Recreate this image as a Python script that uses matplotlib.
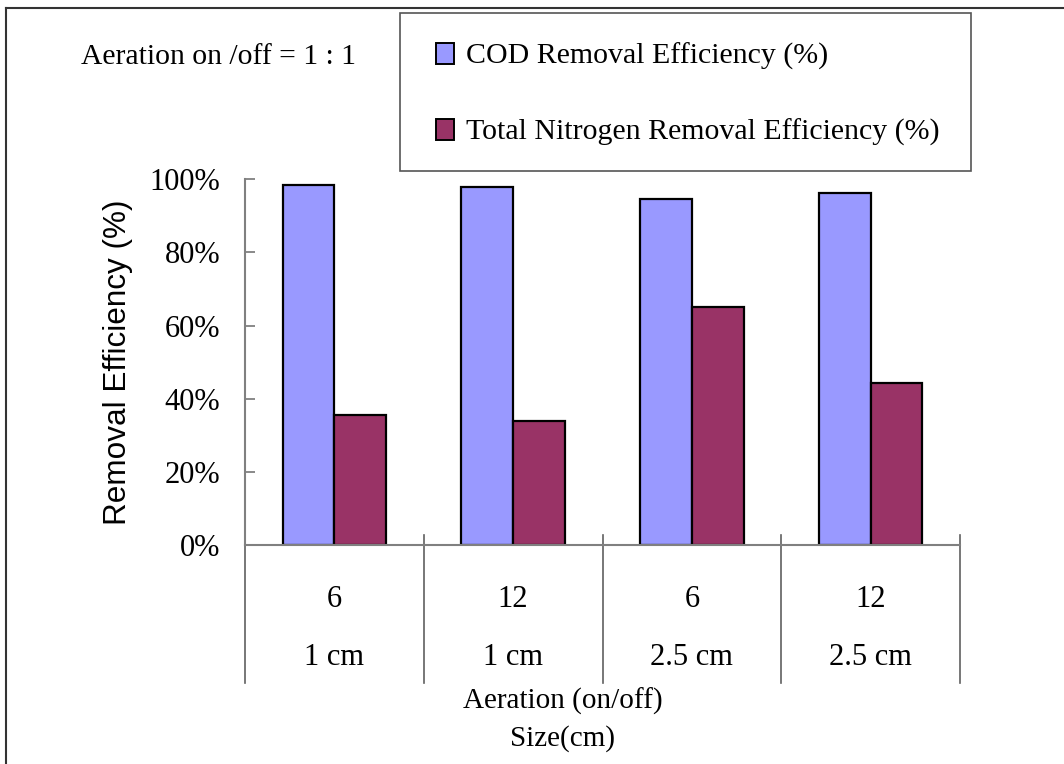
import matplotlib
matplotlib.use("Agg")
import matplotlib.pyplot as plt
from matplotlib.lines import Line2D
from matplotlib.patches import Rectangle, Patch
import numpy as np

aeration = ["6", "12", "6", "12"]
sizes = ["1 cm", "1 cm", "2.5 cm", "2.5 cm"]
cod = [0.984, 0.980, 0.946, 0.963]
tn = [0.356, 0.340, 0.652, 0.444]
series_names = ["COD Removal Efficiency (%)", "Total Nitrogen Removal Efficiency (%)"]
colors = ["#9999FF", "#993366"]

plt.rcParams["font.family"] = ["Liberation Serif", "DejaVu Serif"]

W, H = 1064, 764
fig = plt.figure(figsize=(W / 100, H / 100), dpi=100)
ax = fig.add_axes([245 / W, 1 - 545 / H, (960 - 245) / W, (545 - 179.3) / H])

x = np.arange(len(aeration))
bw = 0.29
ax.bar(x - bw / 2, cod, bw, color=colors[0], edgecolor="black", linewidth=1.6)
ax.bar(x + bw / 2, tn, bw, color=colors[1], edgecolor="black", linewidth=1.6)

ax.set_xlim(-0.5, len(x) - 0.5)
ax.set_ylim(0, 1)
ax.set_yticks(np.arange(0, 1.01, 0.2))
ax.set_yticklabels([f"{int(round(v * 100))}%" for v in np.arange(0, 1.01, 0.2)], fontsize=22)
ax.tick_params(axis="y", direction="in", length=7, width=1.3, color="#808080", pad=18)
ax.set_xticks([])
for s in ["top", "right"]:
    ax.spines[s].set_visible(False)
for s in ["left", "bottom"]:
    ax.spines[s].set_color("#808080")
    ax.spines[s].set_linewidth(1.5)

ax.set_ylabel("Removal Efficiency (%)", family=["Liberation Sans", "DejaVu Sans"],
              fontsize=22.7, labelpad=12)

# group separators and two-row category labels
for b in np.arange(-0.5, len(x), 1.0):
    ax.plot([b, b], [0.027, -0.377], color="#606060", lw=1.2, clip_on=False)
tr = ax.get_xaxis_transform()
for i in x:
    ax.text(i, -0.150, aeration[i], ha="center", va="center", fontsize=22, transform=tr)
    ax.text(i, -0.308, sizes[i], ha="center", va="center", fontsize=22, transform=tr)

fig.text(563 / W, 1 - 701 / H, "Aeration (on/off)", ha="center", va="center", fontsize=21)
fig.text(563 / W, 1 - 739 / H, "Size(cm)", ha="center", va="center", fontsize=21)
fig.text(81 / W, 1 - 57 / H, "Aeration on /off = 1 : 1", ha="left", va="center", fontsize=21.3)

# legend box
fig.add_artist(Rectangle((400 / W, 1 - 171 / H), (971 - 400) / W, (171 - 12.7) / H,
                         transform=fig.transFigure, fill=False, edgecolor="#555555", lw=1.2))
handles = [Patch(facecolor=c, edgecolor="black", linewidth=1.4) for c in colors]
fig.legend(handles, series_names, loc="upper left", bbox_to_anchor=(436 / W, 1 - 43 / H),
           frameon=False, fontsize=21.5, handlelength=0.6, handleheight=0.7,
           handletextpad=0.4, labelspacing=1.62, borderpad=0, borderaxespad=0)

# outer chart border (cropped)
fig.add_artist(Line2D([6 / W, 6 / W], [0, 1 - 8 / H], transform=fig.transFigure,
                      color="#333333", lw=1.5))
fig.add_artist(Line2D([6 / W, 1], [1 - 8 / H, 1 - 8 / H], transform=fig.transFigure,
                      color="#333333", lw=1.5))

fig.savefig("out.png", dpi=100)
